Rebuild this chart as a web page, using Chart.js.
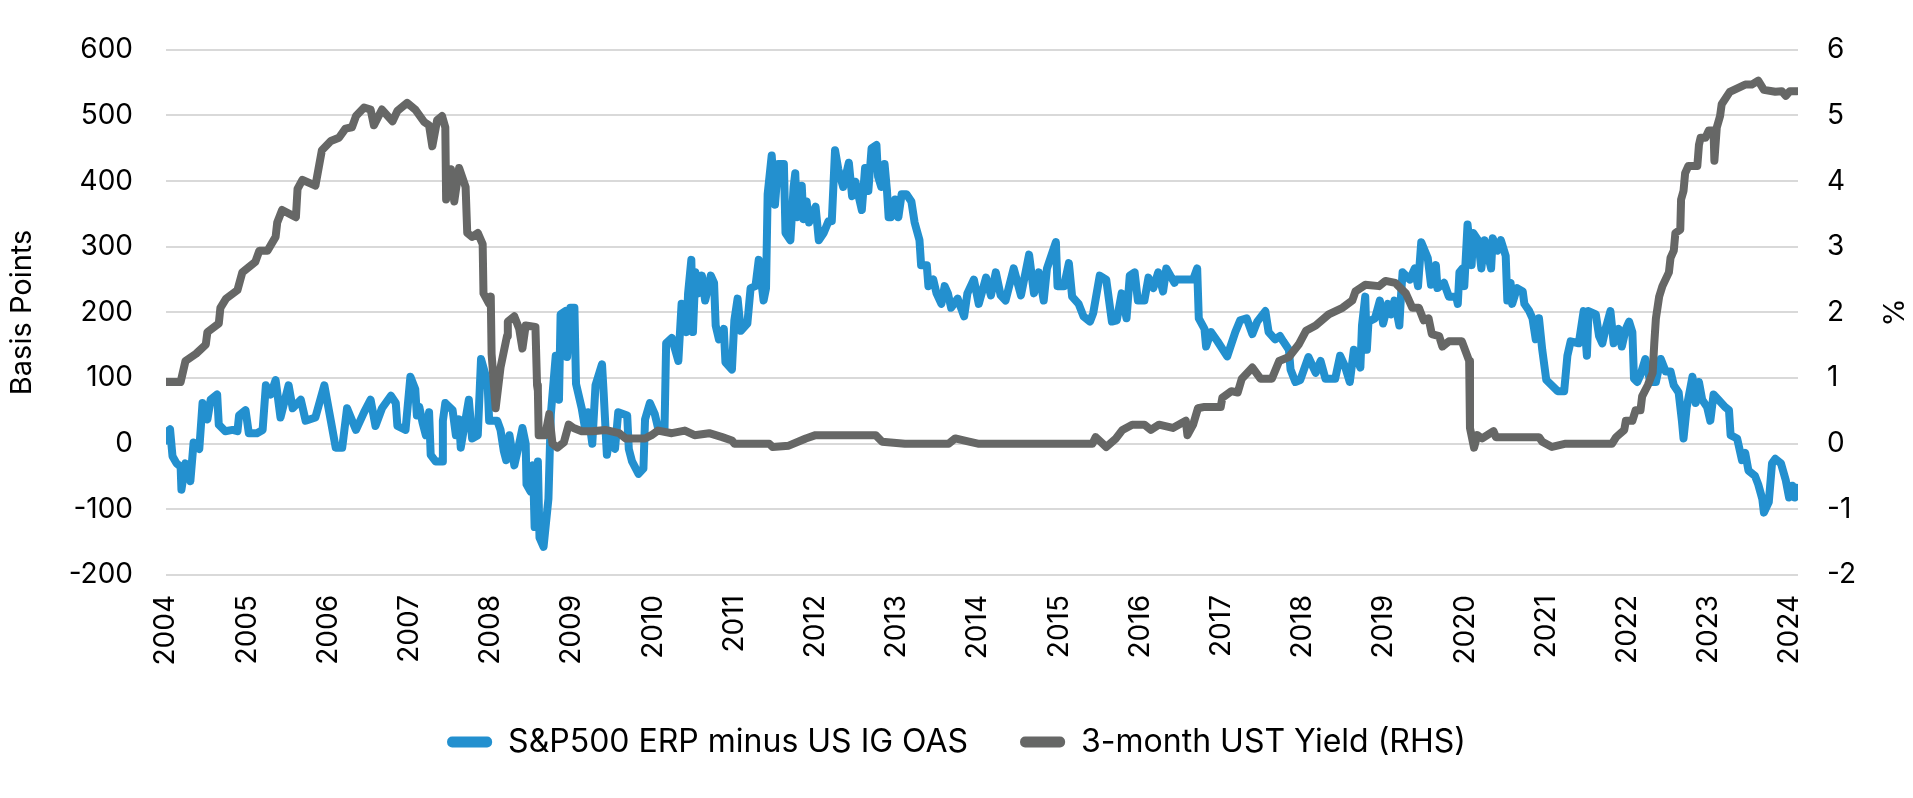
<!DOCTYPE html>
<html>
<head>
<meta charset="utf-8">
<script src="https://cdn.jsdelivr.net/npm/chart.js@4.4.1/dist/chart.umd.min.js"></script>
<style>
  html, body { margin: 0; padding: 0; background: #fff; }
  #wrap { width: 1913px; height: 798px; position: relative; }
</style>
</head>
<body>
<div id="wrap"><canvas id="myChart"></canvas></div>
<script>
// S&P500 ERP minus US IG OAS (bp)
const erpDates = [
  2004.00, 2004.02, 2004.05, 2004.08, 2004.13, 2004.18, 2004.19, 2004.24, 2004.30, 2004.34,
  2004.41, 2004.45, 2004.51, 2004.55, 2004.63, 2004.65, 2004.73, 2004.82, 2004.88, 2004.90,
  2004.98, 2005.02, 2005.12, 2005.19, 2005.23, 2005.29, 2005.35, 2005.41, 2005.51, 2005.56,
  2005.66, 2005.72, 2005.84, 2005.95, 2006.03, 2006.09, 2006.17, 2006.23, 2006.34, 2006.44,
  2006.52, 2006.58, 2006.66, 2006.77, 2006.83, 2006.85, 2006.95, 2007.01, 2007.07, 2007.09,
  2007.12, 2007.16, 2007.20, 2007.24, 2007.26, 2007.32, 2007.40, 2007.41, 2007.44, 2007.53,
  2007.57, 2007.61, 2007.63, 2007.73, 2007.77, 2007.84, 2007.88, 2007.96, 2007.98, 2008.08,
  2008.12, 2008.16, 2008.19, 2008.23, 2008.29, 2008.35, 2008.39, 2008.43, 2008.44, 2008.49,
  2008.52, 2008.54, 2008.58, 2008.60, 2008.65, 2008.71, 2008.74, 2008.80, 2008.84, 2008.86,
  2008.92, 2008.94, 2008.98, 2009.03, 2009.05, 2009.12, 2009.16, 2009.20, 2009.25, 2009.29,
  2009.37, 2009.39, 2009.43, 2009.47, 2009.53, 2009.57, 2009.68, 2009.70, 2009.74, 2009.82,
  2009.88, 2009.90, 2009.96, 2010.02, 2010.06, 2010.14, 2010.16, 2010.23, 2010.31, 2010.35,
  2010.41, 2010.43, 2010.47, 2010.49, 2010.52, 2010.56, 2010.60, 2010.64, 2010.71, 2010.75,
  2010.77, 2010.81, 2010.87, 2010.89, 2010.97, 2011.00, 2011.04, 2011.08, 2011.16, 2011.20,
  2011.26, 2011.30, 2011.36, 2011.39, 2011.41, 2011.46, 2011.50, 2011.54, 2011.61, 2011.63,
  2011.69, 2011.73, 2011.75, 2011.77, 2011.83, 2011.85, 2011.89, 2011.92, 2012.00, 2012.04,
  2012.10, 2012.16, 2012.20, 2012.24, 2012.28, 2012.34, 2012.41, 2012.45, 2012.49, 2012.57,
  2012.61, 2012.65, 2012.69, 2012.75, 2012.77, 2012.81, 2012.85, 2012.88, 2012.90, 2012.93,
  2012.98, 2013.02, 2013.06, 2013.12, 2013.18, 2013.22, 2013.28, 2013.30, 2013.37, 2013.39,
  2013.45, 2013.49, 2013.55, 2013.59, 2013.63, 2013.67, 2013.75, 2013.83, 2013.87, 2013.95,
  2014.01, 2014.10, 2014.16, 2014.22, 2014.28, 2014.34, 2014.44, 2014.53, 2014.63, 2014.69,
  2014.75, 2014.81, 2014.85, 2014.96, 2014.98, 2015.06, 2015.12, 2015.16, 2015.24, 2015.30,
  2015.38, 2015.42, 2015.50, 2015.58, 2015.65, 2015.71, 2015.77, 2015.83, 2015.87, 2015.93,
  2015.97, 2016.05, 2016.10, 2016.16, 2016.22, 2016.28, 2016.32, 2016.42, 2016.44, 2016.65,
  2016.70, 2016.72, 2016.79, 2016.81, 2016.87, 2016.95, 2017.07, 2017.17, 2017.23, 2017.31,
  2017.38, 2017.44, 2017.54, 2017.58, 2017.66, 2017.72, 2017.76, 2017.83, 2017.85, 2017.91,
  2017.97, 2018.07, 2018.16, 2018.22, 2018.28, 2018.40, 2018.46, 2018.52, 2018.58, 2018.63,
  2018.71, 2018.73, 2018.77, 2018.79, 2018.81, 2018.89, 2018.95, 2018.99, 2019.05, 2019.09,
  2019.13, 2019.19, 2019.21, 2019.23, 2019.32, 2019.38, 2019.42, 2019.46, 2019.54, 2019.58,
  2019.64, 2019.66, 2019.74, 2019.80, 2019.89, 2019.91, 2019.93, 2019.97, 2019.99, 2020.03,
  2020.08, 2020.10, 2020.16, 2020.20, 2020.24, 2020.32, 2020.34, 2020.40, 2020.44, 2020.50,
  2020.52, 2020.56, 2020.58, 2020.64, 2020.71, 2020.73, 2020.79, 2020.83, 2020.87, 2020.91,
  2020.95, 2021.00, 2021.14, 2021.22, 2021.26, 2021.30, 2021.40, 2021.46, 2021.50, 2021.52,
  2021.61, 2021.65, 2021.69, 2021.73, 2021.79, 2021.83, 2021.89, 2021.93, 2021.98, 2022.02,
  2022.06, 2022.08, 2022.12, 2022.16, 2022.22, 2022.28, 2022.35, 2022.41, 2022.47, 2022.53,
  2022.57, 2022.63, 2022.67, 2022.69, 2022.73, 2022.80, 2022.84, 2022.88, 2022.92, 2022.98,
  2023.02, 2023.06, 2023.12, 2023.20, 2023.25, 2023.27, 2023.35, 2023.37, 2023.41, 2023.45,
  2023.49, 2023.57, 2023.61, 2023.66, 2023.68, 2023.74, 2023.78, 2023.82, 2023.89, 2023.95,
  2023.99, 2024.03, 2024.06, 2024.08
];
const erpValues = [
  5, 19, 22, -19, -30, -35, -70, -30, -57, 2,
  -8, 62, 37, 67, 75, 29, 19, 21, 19, 43,
  51, 16, 16, 21, 89, 75, 97, 40, 89, 54,
  67, 35, 40, 89, 35, -6, -6, 54, 21, 48,
  67, 27, 54, 73, 62, 27, 21, 102, 83, 43,
  56, 32, 13, 48, -17, -27, -27, 35, 62, 51,
  13, 37, -6, 67, 8, 13, 129, 94, 35, 35,
  21, -11, -25, 13, -33, 0, 24, 0, -62, -73,
  -33, -127, -27, -143, -157, -84, 45, 134, 67, 197,
  202, 132, 207, 207, 91, 54, 24, 48, 0, 89,
  121, 78, -17, 13, -8, 48, 43, -8, -27, -46,
  -38, 37, 62, 45, 24, 24, 153, 161, 126, 213,
  170, 229, 280, 170, 261, 229, 256, 218, 256, 245,
  180, 159, 175, 124, 113, 188, 221, 172, 183, 237,
  240, 280, 218, 237, 380, 439, 364, 426, 426, 321,
  310, 391, 412, 345, 393, 342, 369, 337, 361, 310,
  321, 339, 339, 447, 418, 391, 428, 377, 399, 356,
  420, 385, 450, 455, 407, 391, 426, 385, 345, 345,
  372, 345, 380, 380, 369, 337, 310, 272, 272, 240,
  250, 229, 213, 240, 229, 207, 221, 194, 229, 250,
  213, 253, 226, 261, 226, 218, 267, 226, 288, 229,
  261, 218, 267, 307, 240, 240, 275, 224, 213, 194,
  186, 199, 256, 250, 186, 188, 229, 191, 256, 261,
  218, 218, 253, 237, 261, 232, 267, 245, 250, 250,
  267, 191, 175, 148, 170, 156, 133, 170, 188, 191,
  167, 186, 202, 170, 159, 164, 156, 143, 113, 94,
  97, 132, 108, 126, 99, 99, 134, 118, 94, 143,
  116, 180, 224, 143, 186, 191, 218, 183, 213, 197,
  218, 180, 224, 261, 250, 267, 240, 307, 283, 242,
  272, 237, 245, 224, 224, 213, 261, 267, 240, 334,
  272, 321, 310, 267, 310, 267, 313, 294, 310, 286,
  218, 245, 213, 237, 232, 213, 202, 191, 159, 191,
  143, 97, 80, 80, 134, 156, 153, 202, 134, 202,
  197, 164, 153, 175, 202, 153, 175, 148, 175, 186,
  170, 99, 94, 105, 129, 94, 94, 129, 110, 110,
  89, 78, 35, 8, 56, 102, 62, 94, 67, 56,
  35, 75, 67, 56, 51, 13, 8, -3, -25, -14,
  -41, -49, -62, -84, -105, -89, -30, -23, -30, -56,
  -82, -64, -82, -67
];

// 3-month UST yield (%) - right hand scale
const yieldDates = [
  2004.00, 2004.18, 2004.24, 2004.37, 2004.49, 2004.51, 2004.65, 2004.67, 2004.74, 2004.88,
  2004.94, 2005.10, 2005.15, 2005.25, 2005.35, 2005.37, 2005.43, 2005.60, 2005.62, 2005.68,
  2005.84, 2005.88, 2005.92, 2006.03, 2006.13, 2006.21, 2006.29, 2006.34, 2006.44, 2006.52,
  2006.56, 2006.66, 2006.79, 2006.85, 2006.97, 2007.07, 2007.18, 2007.24, 2007.28, 2007.34,
  2007.40, 2007.44, 2007.45, 2007.51, 2007.55, 2007.61, 2007.69, 2007.71, 2007.77, 2007.84,
  2007.90, 2007.91, 2007.98, 2008.00, 2008.01, 2008.06, 2008.12, 2008.20, 2008.21, 2008.29,
  2008.35, 2008.39, 2008.43, 2008.55, 2008.57, 2008.58, 2008.59, 2008.67, 2008.72, 2008.76,
  2008.82, 2008.90, 2008.96, 2009.02, 2009.12, 2009.25, 2009.41, 2009.58, 2009.66, 2009.90,
  2009.98, 2010.06, 2010.23, 2010.39, 2010.51, 2010.69, 2010.85, 2010.97, 2011.00, 2011.43,
  2011.47, 2011.67, 2011.88, 2012.00, 2012.74, 2012.82, 2013.10, 2013.64, 2013.72, 2013.89,
  2014.00, 2015.41, 2015.45, 2015.58, 2015.70, 2015.78, 2015.90, 2016.05, 2016.13, 2016.23,
  2016.40, 2016.56, 2016.58, 2016.65, 2016.71, 2016.79, 2016.99, 2017.01, 2017.12, 2017.20,
  2017.25, 2017.38, 2017.48, 2017.62, 2017.71, 2017.83, 2017.95, 2018.04, 2018.16, 2018.32,
  2018.49, 2018.61, 2018.65, 2018.77, 2018.94, 2019.02, 2019.14, 2019.27, 2019.35, 2019.43,
  2019.49, 2019.55, 2019.59, 2019.68, 2019.72, 2019.80, 2019.96, 2020.05, 2020.06, 2020.11,
  2020.15, 2020.21, 2020.35, 2020.38, 2020.91, 2020.95, 2021.07, 2021.24, 2021.81, 2021.86,
  2021.96, 2021.98, 2022.06, 2022.10, 2022.16, 2022.18, 2022.25, 2022.31, 2022.33, 2022.35,
  2022.39, 2022.43, 2022.51, 2022.53, 2022.57, 2022.59, 2022.65, 2022.66, 2022.69, 2022.71,
  2022.75, 2022.86, 2022.88, 2022.90, 2022.96, 2023.00, 2023.06, 2023.07, 2023.10, 2023.14,
  2023.16, 2023.26, 2023.45, 2023.53, 2023.61, 2023.68, 2023.82, 2023.90, 2023.95, 2024.00,
  2024.09
];
const yieldValues = [
  0.94, 0.94, 1.26, 1.37, 1.51, 1.70, 1.83, 2.07, 2.21, 2.34,
  2.61, 2.77, 2.94, 2.94, 3.15, 3.37, 3.56, 3.45, 3.88, 4.02,
  3.93, 4.20, 4.47, 4.61, 4.66, 4.80, 4.82, 4.99, 5.12, 5.09,
  4.85, 5.09, 4.91, 5.07, 5.19, 5.09, 4.90, 4.85, 4.53, 4.93,
  4.99, 4.82, 3.72, 4.18, 3.69, 4.20, 3.91, 3.21, 3.15, 3.21,
  3.04, 2.29, 2.13, 2.24, 1.37, 0.54, 1.16, 1.64, 1.86, 1.94,
  1.75, 1.45, 1.80, 1.78, 0.89, 0.81, 0.13, 0.13, 0.45, 0.00,
  -0.06, 0.02, 0.29, 0.24, 0.19, 0.19, 0.21, 0.16, 0.08, 0.08,
  0.13, 0.20, 0.16, 0.20, 0.13, 0.16, 0.10, 0.05, 0.00, 0.00,
  -0.05, -0.03, 0.08, 0.13, 0.13, 0.03, 0.00, 0.00, 0.08, 0.03,
  0.00, 0.00, 0.10, -0.05, 0.08, 0.21, 0.29, 0.29, 0.21, 0.29,
  0.24, 0.35, 0.13, 0.29, 0.54, 0.56, 0.56, 0.70, 0.80, 0.78,
  0.99, 1.16, 0.99, 0.99, 1.26, 1.32, 1.51, 1.72, 1.80, 1.97,
  2.07, 2.18, 2.32, 2.42, 2.40, 2.48, 2.45, 2.29, 2.07, 2.07,
  1.88, 1.91, 1.67, 1.64, 1.48, 1.56, 1.56, 1.26, 0.24, -0.06,
  0.13, 0.08, 0.19, 0.10, 0.10, 0.03, -0.05, 0.00, 0.00, 0.10,
  0.21, 0.35, 0.35, 0.51, 0.51, 0.72, 0.89, 1.08, 1.53, 1.91,
  2.24, 2.40, 2.61, 2.83, 2.94, 3.21, 3.26, 3.72, 3.85, 4.12,
  4.23, 4.23, 4.55, 4.66, 4.66, 4.77, 4.77, 4.31, 4.82, 4.99,
  5.17, 5.36, 5.47, 5.47, 5.53, 5.39, 5.36, 5.37, 5.30, 5.37,
  5.37
];

const yearTicks = [2004, 2005, 2006, 2007, 2008, 2009, 2010, 2011, 2012, 2013, 2014,
  2015, 2016, 2017, 2018, 2019, 2020, 2021, 2022, 2023, 2024];
const bpTicks = [-200, -100, 0, 100, 200, 300, 400, 500, 600];
const pctTicks = [-2, -1, 0, 1, 2, 3, 4, 5, 6];

const fam = "Inter, 'Noto Sans', sans-serif";
const tickFont = { family: fam, size: 28 };
const titleFont = { family: fam, size: 29 };
const legendFont = { family: fam, size: 32 };
const blue = "#2390cf";
const grey = "#666766";

const setTicks = (list) => (axis) => {
  axis.ticks = list.map((v) => ({ value: v }));
};

const data = {
  datasets: [
    {
      label: "S&P500 ERP minus US IG OAS",
      data: erpDates.map((d, i) => ({ x: d, y: erpValues[i] })),
      borderColor: blue,
      backgroundColor: blue,
      yAxisID: "y",
      order: 2,
    },
    {
      label: "3-month UST Yield (RHS)",
      data: yieldDates.map((d, i) => ({ x: d, y: yieldValues[i] })),
      borderColor: grey,
      backgroundColor: grey,
      yAxisID: "y2",
      order: 1,
    },
  ],
};

const config = {
  type: "line",
  data,
  options: {
    responsive: true,
    maintainAspectRatio: false,
    animation: false,
    layout: { padding: { top: 46, left: 0, right: 0, bottom: 30 } },
    elements: {
      point: { radius: 0, hoverRadius: 0 },
      line: { borderWidth: 8, tension: 0, borderJoinStyle: "round", borderCapStyle: "round" },
    },
    plugins: {
      tooltip: { enabled: false },
      legend: {
        position: "bottom",
        labels: {
          color: "#000",
          font: legendFont,
          boxWidth: 45,
          boxHeight: 11,
          padding: 52,
          useBorderRadius: true,
          borderRadius: 5,
          sort: (a, b) => a.datasetIndex - b.datasetIndex,
          generateLabels: (chart) =>
            Chart.defaults.plugins.legend.labels.generateLabels(chart).map((l) => ({ ...l, lineWidth: 0 })),
        },
      },
    },
    scales: {
      x: {
        type: "linear",
        min: 2004,
        max: 2024.1,
        afterBuildTicks: setTicks(yearTicks),
        afterFit: (s) => { s.height = 99; },
        grid: { display: false, drawTicks: false },
        border: { display: false },
        ticks: {
          autoSkip: false,
          minRotation: 90,
          maxRotation: 90,
          padding: 20,
          color: "#000",
          font: tickFont,
          callback: (v) => String(v),
        },
      },
      y: {
        position: "left",
        min: -200,
        max: 600,
        afterBuildTicks: setTicks(bpTicks),
        afterFit: (s) => { s.width = 166; },
        grid: { color: "#d9d9d9", lineWidth: 2, drawTicks: false },
        border: { display: false },
        ticks: { padding: 33, color: "#000", font: tickFont },
        title: { display: true, text: "Basis Points", color: "#000", font: titleFont, padding: { top: 5, bottom: 0 } },
      },
      y2: {
        position: "right",
        min: -2,
        max: 6,
        afterBuildTicks: setTicks(pctTicks),
        afterFit: (s) => { s.width = 115; },
        grid: { display: false, drawTicks: false },
        border: { display: false },
        ticks: { padding: 29, color: "#000", font: tickFont },
        title: { display: true, text: "%", color: "#000", font: titleFont, padding: { top: 4, bottom: 0 } },
      },
    },
  },
};

var myChart = new Chart(document.getElementById("myChart"), config);
</script>
</body>
</html>
